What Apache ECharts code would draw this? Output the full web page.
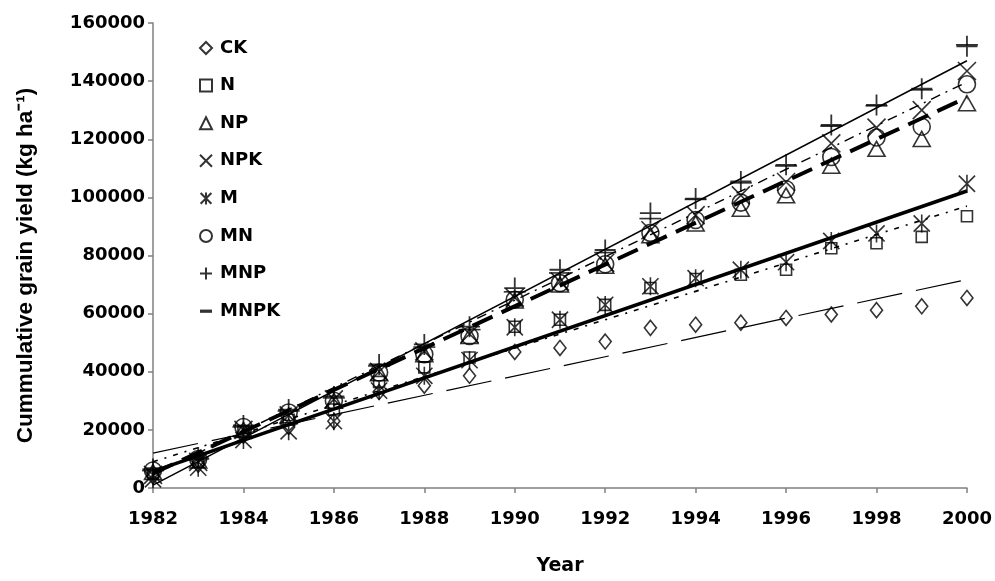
<!DOCTYPE html>
<html>
<head>
<meta charset="utf-8">
<script src="https://cdn.jsdelivr.net/npm/echarts@6/dist/echarts.min.js"></script>
<style>html,body{margin:0;padding:0;background:#fff}#c{width:995px;height:581px}</style>
</head>
<body>
<div id="c"></div>
<script>
// ---- data ----
const years = [1982,1983,1984,1985,1986,1987,1988,1989,1990,1991,1992,1993,1994,1995,1996,1997,1998,1999,2000];
const xTicks = [1982,1984,1986,1988,1990,1992,1994,1996,1998,2000];
const yTicks = [0,20000,40000,60000,80000,100000,120000,140000,160000];
const seriesNames = ['CK','N','NP','NPK','M','MN','MNP','MNPK'];

const CK   = [4000, 8000,18000,21000,23000,33000,35200,38600,46800,48200,50400,55100,56200,56900,58500,59700,61200,62500,65400];
const N    = [5000, 9000,19500,23500,27000,36500,41500,44900,55500,57900,63000,68800,71900,73400,75100,82500,84200,86400,93500];
const NP   = [5500, 9500,20000,25000,30000,39500,46000,52300,64500,70000,76500,87000,91000,96100,100700,110900,116700,120100,132400];
const NPK  = [4500, 9000,20000,25000,30500,40000,47000,53000,65500,71000,77500,88700,93900,100700,105300,118600,124000,130000,143500];
const M    = [3000, 7000,16500,19500,23000,33500,38600,44000,55300,57900,63000,69400,72200,75100,77700,85000,87600,91000,104700];
const MN   = [6000,10000,21000,26000,30000,39700,46000,52300,64800,70500,77000,87800,92200,98200,102800,113900,120600,124300,138900];
const MNP  = [6500,10500,21500,27000,31500,42500,49400,55500,68800,75100,81900,94600,99600,105500,111200,124900,131800,137400,152000];
const MNPK = [6000,10000,21000,26500,31000,42000,48500,54500,67500,74000,81000,92700,99300,105000,110800,124500,131500,137000,152500];

// straight trend lines: values at the first and last year
const trendYears = [1982, 2000];
const trendCK  = [12000, 71700];
const trendN   = [9000, 97000];
const trendM   = [5700, 102200];
const trendNP  = [5000, 134400];
const trendMN  = [4500, 139700];
const trendMNP = [1000, 147000];

// ---- chart ----
const pts = arr => years.map((y, i) => [y, arr[i]]);
const tpts = arr => trendYears.map((y, i) => [y, arr[i]]);

const P_X = 'path://M0,0L10,10M10,0L0,10';
const P_AST = 'path://M0.5,0.5L9.5,9.5M9.5,0.5L0.5,9.5M5,0L5,10';
const P_PLUS = 'path://M5,0L5,10M0,5L10,5';
const P_BAR = 'path://M0,0L10,0L10,2.7L0,2.7Z';

function mark(name, data, symbol, size, bw, filled, z) {
  return {
    type: 'scatter', name, data: pts(data), symbol, symbolSize: size, symbolKeepAspect: true,
    itemStyle: filled ? {color: '#000', borderWidth: 0}
                      : {color: 'rgba(0,0,0,0)', borderColor: '#000', borderWidth: bw},
    emphasis: {disabled: true}, z: z || 4
  };
}
function trend(name, data, width, type) {
  return {
    type: 'line', name, data: tpts(data), symbol: 'none', silent: true,
    lineStyle: {color: '#000', width, type}, emphasis: {disabled: true}, z: 3
  };
}

const labelFont = {fontFamily: 'DejaVu Sans', fontWeight: 'bold', fontSize: 18, color: '#000'};

const option = {
  animation: false,
  backgroundColor: '#fff',
  grid: {left: 153, right: 26, top: 23, bottom: 90, containLabel: false},
  legend: {
    orient: 'vertical', left: 194, top: 34,
    itemWidth: 12, itemHeight: 12, itemGap: 19.6,
    data: seriesNames,
    textStyle: Object.assign({}, labelFont, {fontSize: 18, padding: [0, 0, 0, 3]}),
    selectedMode: false
  },
  xAxis: {
    type: 'value', min: 1982, max: 2000, interval: 2,
    name: 'Year', nameLocation: 'middle', nameGap: 69,
    nameTextStyle: Object.assign({}, labelFont, {fontSize: 19}),
    axisLine: {show: true, lineStyle: {color: '#808080', width: 1.5}},
    axisTick: {show: true, length: 5, lineStyle: {color: '#808080', width: 1.5}},
    axisLabel: Object.assign({}, labelFont, {margin: 22, formatter: v => String(v)}),
    splitLine: {show: false}
  },
  yAxis: {
    type: 'value', min: 0, max: 160000, interval: 20000,
    name: 'Cummulative grain yield (kg ha\u207B\u00B9)', nameLocation: 'middle', nameGap: 116,
    nameTextStyle: {fontFamily: 'Liberation Sans', fontWeight: 'bold', fontSize: 22.5, color: '#000', padding: [0, 20, 0, 0]},
    axisLine: {show: true, lineStyle: {color: '#808080', width: 1.5}},
    axisTick: {show: true, length: 5, lineStyle: {color: '#808080', width: 1.5}},
    axisLabel: Object.assign({}, labelFont, {margin: 8, formatter: v => String(v)}),
    splitLine: {show: false}
  },
  series: [
    trend('CK trend', trendCK, 1.2, [46, 14]),
    trend('N trend', trendN, 1.6, [5, 7, 2, 7]),
    trend('M trend', trendM, 3.5, 'solid'),
    trend('NP trend', trendNP, 4, [22, 10]),
    trend('MN trend', trendMN, 1.4, [10, 6, 2, 6]),
    trend('MNP trend', trendMNP, 1.5, 'solid'),
    mark('CK', CK, 'diamond', [12, 15], 1.6),
    mark('N', N, 'rect', 11, 1.6),
    mark('NP', NP, 'triangle', [17, 15], 1.6),
    mark('NPK', NPK, P_X, 18, 1.6),
    mark('M', M, P_AST, 18, 1.6),
    mark('MN', MN, 'circle', 17, 1.6),
    mark('MNP', MNP, P_PLUS, 21, 1.8),
    mark('MNPK', MNPK, P_BAR, [22, 6], 0, true, 5)
  ]
};

const chart = echarts.init(document.getElementById('c'), null, {renderer: 'canvas'});
chart.setOption(option);
</script>
</body>
</html>
